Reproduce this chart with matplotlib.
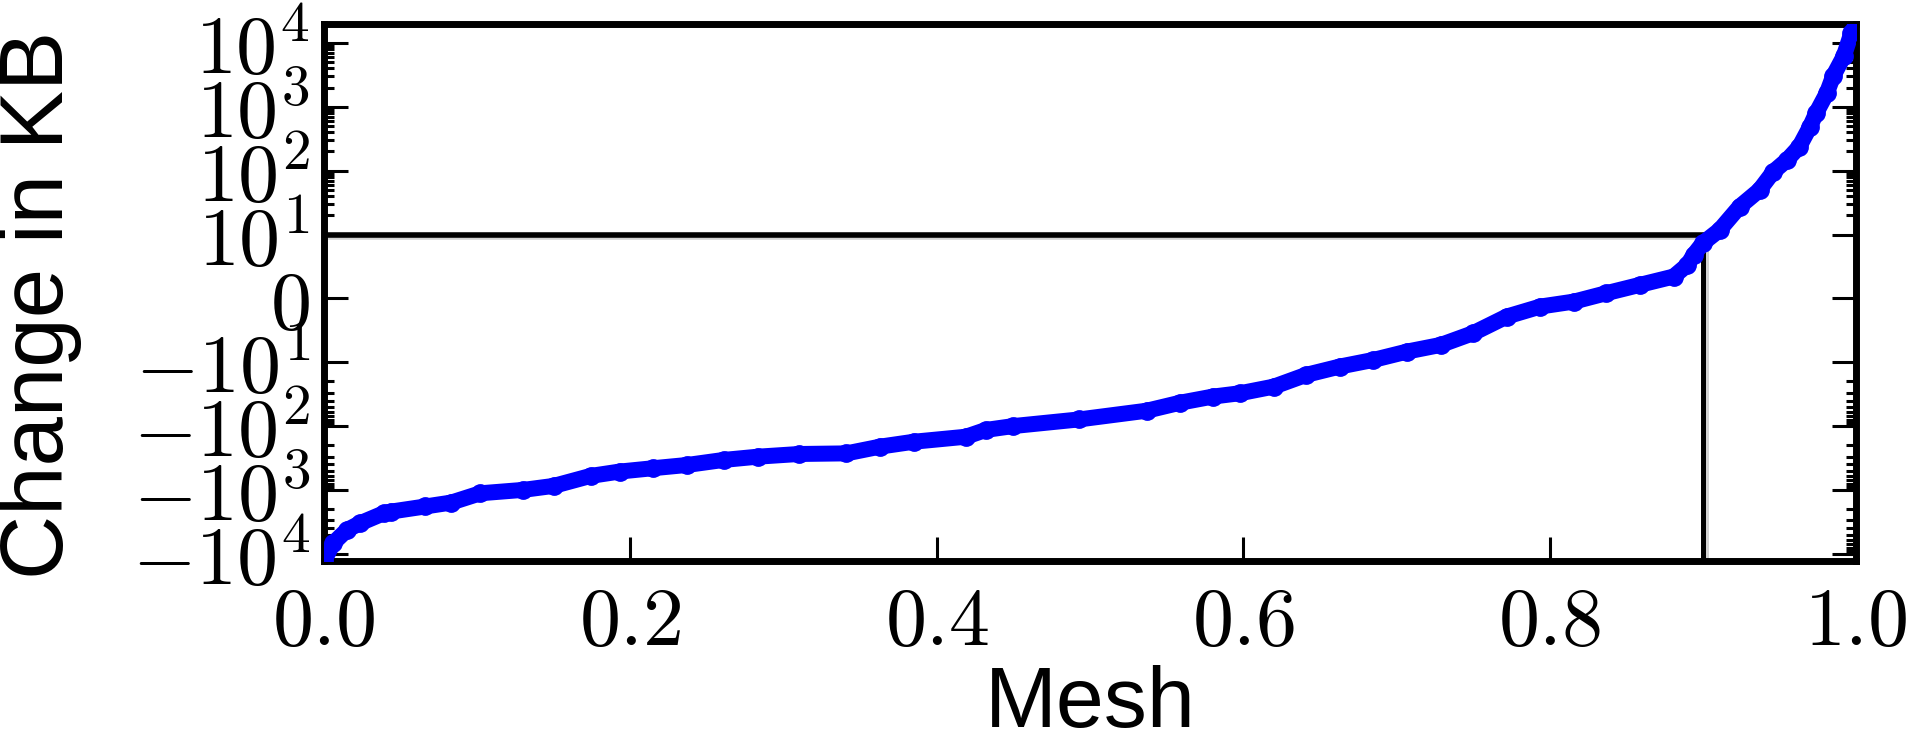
import numpy as np
import matplotlib
matplotlib.use("Agg")
import matplotlib.pyplot as plt
import matplotlib.ticker as mticker
import matplotlib.patheffects as pe

# ---- data ----
mesh = [0.0, 0.006, 0.015, 0.0235, 0.039, 0.0435, 0.066, 0.083, 0.102, 0.13,
        0.15, 0.174, 0.193, 0.215, 0.237, 0.261, 0.283, 0.31, 0.341, 0.363,
        0.385, 0.419, 0.432, 0.45, 0.493, 0.537, 0.559, 0.58, 0.598, 0.62,
        0.641, 0.663, 0.685, 0.707, 0.729, 0.75, 0.772, 0.794, 0.816, 0.837,
        0.859, 0.881, 0.890, 0.894, 0.900, 0.911, 0.924, 0.937, 0.946, 0.955,
        0.963, 0.970, 0.974, 0.981, 0.985, 0.992, 0.997, 1.0]
change_kb = [-13000, -6840, -4240, -3330, -2320, -2190, -1820, -1580, -1130, -1000,
             -865, -604, -516, -457, -407, -339, -302, -274, -268, -210,
             -176, -147, -115, -100, -78.7, -57.5, -43, -34.6, -30.6, -24.1,
             -15.8, -11.7, -9.64, -8.33, -7.29, -5.46, -2.85, -1.28, -0.5, 0.81,
             2.12, 3.42, 5.25, 6.8, 8.65, 11.8, 27.3, 49.8, 96, 147,
             238, 490, 800, 1650, 3000, 6200, 14400, 19500]
threshold_x = 0.9
threshold_y = 10
y_limits = (-13000, 19500)
x_ticks = [0.0, 0.2, 0.4, 0.6, 0.8, 1.0]

plt.rcParams['mathtext.fontset'] = 'cm'
plt.rcParams['mathtext.default'] = 'rm'


def y_fmt(v, pos):
    if v == 0:
        return r'$0$'
    e = int(round(np.log10(abs(v))))
    sign = '-' if v < 0 else ''
    return r'$%s10^{%d}$' % (sign, e)


def x_fmt(v, pos):
    return r'$%.1f$' % v


fig = plt.figure(figsize=(19.15, 7.41), dpi=100)
ax = fig.add_axes([0.1692, 0.2429, 0.9692 - 0.1692, 0.967 - 0.2429])

ax.plot(mesh, change_kb, color='#0000ff', lw=11.5, marker='o', ms=12.5,
        mec='#0000ff', solid_capstyle='round', solid_joinstyle='round', zorder=3)

shadow = [pe.SimpleLineShadow(offset=(2, -2), shadow_color='gray', alpha=0.35), pe.Normal()]
ax.plot([0, threshold_x], [threshold_y, threshold_y], color='black', lw=4, path_effects=shadow, zorder=2)
ax.plot([threshold_x, threshold_x], [threshold_y, y_limits[0]], color='black', lw=3.6,
        path_effects=shadow, zorder=2)

ax.set_yscale('symlog', linthresh=10, linscale=0.9)
ax.set_ylim(*y_limits)
ax.set_xlim(0, 1)
ax.set_xticks(x_ticks)
ax.yaxis.set_minor_locator(mticker.SymmetricalLogLocator(linthresh=10, base=10, subs=np.arange(2, 10)))
ax.yaxis.set_major_formatter(mticker.FuncFormatter(y_fmt))
ax.xaxis.set_major_formatter(mticker.FuncFormatter(x_fmt))

for s in ax.spines.values():
    s.set_linewidth(5)

ax.tick_params(axis='both', which='major', direction='in', length=17, width=2.2,
               labelsize=59)
ax.tick_params(axis='y', which='both', left=True, right=True)
ax.tick_params(axis='y', which='minor', direction='in', length=7.5, width=2.2)
ax.tick_params(axis='x', which='both', top=False, bottom=True, pad=16)
ax.tick_params(axis='y', which='major', pad=10)

ax.set_xlabel('Mesh', fontsize=62, family='Liberation Sans', labelpad=2)
ax.set_ylabel('Change in KB', fontsize=64, family='Liberation Sans')
ax.yaxis.set_label_coords(-0.158, 0.477)

fig.savefig('out.png', dpi=100)
